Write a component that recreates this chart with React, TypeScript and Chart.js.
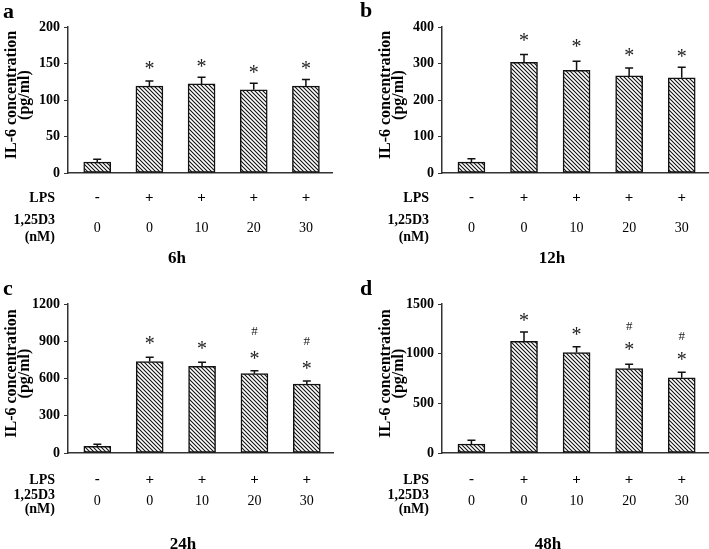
import React, { useEffect, useRef } from 'react';
import { Chart, registerables } from 'chart.js';
Chart.register(...registerables);

// ---------- data ----------
const doseLabels = ['0', '0', '10', '20', '30'];
const lpsSigns = ['-', '+', '+', '+', '+'];
const rowLabelLPS = 'LPS';
const rowLabelDose1 = '1,25D3';
const rowLabelDose2 = '(nM)';
const yTitleLine1 = 'IL-6 concentration';
const yTitleLine2 = '(pg/ml)';
const panelLetters = ['a', 'b', 'c', 'd'];
const timeLabels = ['6h', '12h', '24h', '48h'];

const valuesA = [15, 119, 122, 114, 119];
const sdA = [4, 7, 9, 9, 9];
const starA = [null, 148, 151, 143, 148];
const hashA = [null, null, null, null, null];
const yTicksA = [0, 50, 100, 150, 200];

const valuesB = [30, 303, 281, 266, 261];
const sdB = [9, 22, 25, 22, 29];
const starB = [null, 373, 355, 332, 329];
const hashB = [null, null, null, null, null];
const yTicksB = [0, 100, 200, 300, 400];

const valuesC = [54, 736, 698, 639, 556];
const sdC = [16, 35, 33, 24, 24];
const starC = [null, 912, 871, 790, 709];
const hashC = [null, null, null, 984, 903];
const yTicksC = [0, 300, 600, 900, 1200];

const valuesD = [91, 1123, 1011, 850, 758];
const sdD = [37, 94, 58, 43, 54];
const starD = [null, 1365, 1224, 1079, 978];
const hashD = [null, null, null, 1281, 1180];
const yTicksD = [0, 500, 1000, 1500];

const panelValues = [valuesA, valuesB, valuesC, valuesD];
const panelSd = [sdA, sdB, sdC, sdD];
const panelStar = [starA, starB, starC, starD];
const panelHash = [hashA, hashB, hashC, hashD];
const panelTicks = [yTicksA, yTicksB, yTicksC, yTicksD];

// ---------- layout / style ----------
const FONT = '"Liberation Serif", "Times New Roman", serif';
const AXIS = '#333';
const layouts = [
  { left: 0, top: 0, w: 355, h: 270, pl: 68, pt: 27, pr: 332, pb: 173, lps: 24, dose: 54, l1: 47, l2: 64, time: 84, timeX: 177, letterX: 3, letterY: 18 },
  { left: 355, top: 0, w: 354, h: 270, pl: 87, pt: 27, pr: 353, pb: 173, lps: 24, dose: 54, l1: 47, l2: 64, time: 84, timeX: 197, letterX: 5, letterY: 17 },
  { left: 0, top: 270, w: 355, h: 279, pl: 68, pt: 34, pr: 333, pb: 183, lps: 26, dose: 47, l1: 42, l2: 56, time: 90, timeX: 183, letterX: 3, letterY: 25 },
  { left: 355, top: 270, w: 354, h: 279, pl: 87, pt: 34, pr: 353, pb: 183, lps: 26, dose: 47, l1: 42, l2: 56, time: 90, timeX: 193, letterX: 5, letterY: 25 },
];

function makeHatch(): CanvasPattern | string {
  const t = document.createElement('canvas');
  t.width = 4;
  t.height = 4;
  const c = t.getContext('2d');
  if (!c) return '#fff';
  c.fillStyle = '#fff';
  c.fillRect(0, 0, 4, 4);
  c.strokeStyle = '#111';
  c.lineWidth = 1.1;
  c.beginPath();
  c.moveTo(-1, -1); c.lineTo(5, 5);
  c.moveTo(-1, 3); c.lineTo(1, 5);
  c.moveTo(3, -1); c.lineTo(5, 1);
  c.stroke();
  return c.createPattern(t, 'repeat') || '#fff';
}

function drawCentered(ctx: CanvasRenderingContext2D, text: string, x: number, y: number) {
  const m = ctx.measureText(text);
  const asc = m.actualBoundingBoxAscent;
  const desc = m.actualBoundingBoxDescent;
  ctx.textBaseline = 'alphabetic';
  ctx.fillText(text, x, y + (asc - desc) / 2);
}

function Panel({ idx }: { idx: number }) {
  const ref = useRef<HTMLCanvasElement>(null);
  useEffect(() => {
    const L = layouts[idx];
    const values = panelValues[idx];
    const sd = panelSd[idx];
    const stars = panelStar[idx];
    const hashes = panelHash[idx];
    const ticks = panelTicks[idx];
    const canvas = ref.current;
    if (!canvas) return;

    const decor = {
      id: 'decor' + idx,
      afterDatasetsDraw(chart: any) {
        const ctx: CanvasRenderingContext2D = chart.ctx;
        const xs = chart.scales.x;
        const ys = chart.scales.y;
        const ca = chart.chartArea;
        ctx.save();
        // error bars
        ctx.strokeStyle = '#111';
        ctx.lineWidth = 1.5;
        values.forEach((v, i) => {
          const x = xs.getPixelForValue(i);
          const y0 = ys.getPixelForValue(v);
          const y1 = ys.getPixelForValue(v + sd[i]);
          ctx.beginPath();
          ctx.moveTo(x, y0);
          ctx.lineTo(x, y1);
          ctx.moveTo(x - 4, y1);
          ctx.lineTo(x + 4, y1);
          ctx.stroke();
        });
        // significance marks
        ctx.fillStyle = '#222';
        ctx.textAlign = 'center';
        stars.forEach((s, i) => {
          if (s == null) return;
          ctx.font = '20px ' + FONT;
          drawCentered(ctx, '*', xs.getPixelForValue(i), ys.getPixelForValue(s));
        });
        hashes.forEach((s, i) => {
          if (s == null) return;
          ctx.font = '13px ' + FONT;
          drawCentered(ctx, '#', xs.getPixelForValue(i), ys.getPixelForValue(s));
        });
        // condition rows
        ctx.fillStyle = '#000';
        const bottom = ca.bottom;
        lpsSigns.forEach((s, i) => {
          ctx.font = 'bold 15px ' + FONT;
          drawCentered(ctx, s, xs.getPixelForValue(i), bottom + L.lps);
        });
        doseLabels.forEach((s, i) => {
          ctx.font = '14px ' + FONT;
          drawCentered(ctx, s, xs.getPixelForValue(i), bottom + L.dose);
        });
        ctx.textAlign = 'right';
        ctx.font = 'bold 14px ' + FONT;
        const rx = ca.left - 13;
        drawCentered(ctx, rowLabelLPS, rx, bottom + L.lps);
        drawCentered(ctx, rowLabelDose1, rx, bottom + L.l1);
        drawCentered(ctx, rowLabelDose2, rx, bottom + L.l2);
        // time label
        ctx.textAlign = 'center';
        ctx.font = 'bold 17px ' + FONT;
        drawCentered(ctx, timeLabels[idx], L.timeX, bottom + L.time);
        // panel letter
        ctx.textAlign = 'left';
        ctx.textBaseline = 'alphabetic';
        ctx.font = 'bold 22px ' + FONT;
        ctx.fillText(panelLetters[idx], L.letterX, L.letterY);
        // y title
        const cy = (ca.top + ca.bottom) / 2 - 5;
        ctx.font = 'bold 16px ' + FONT;
        ctx.textAlign = 'center';
        ctx.save();
        ctx.translate(ca.left - 58, cy);
        ctx.rotate(-Math.PI / 2);
        drawCentered(ctx, yTitleLine1, 0, 0);
        ctx.restore();
        ctx.save();
        ctx.translate(ca.left - 43, cy);
        ctx.rotate(-Math.PI / 2);
        drawCentered(ctx, yTitleLine2, 0, 0);
        ctx.restore();
        ctx.restore();
      },
    };

    const chart = new Chart(canvas, {
      type: 'bar',
      data: {
        datasets: [
          {
            data: values.map((v, i) => ({ x: i, y: v })),
            backgroundColor: makeHatch() as any,
            borderColor: '#111',
            borderWidth: 1.5,
            borderSkipped: false,
            barThickness: 27,
          },
        ],
      },
      options: {
        responsive: false,
        animation: false,
        devicePixelRatio: 1,
        layout: { padding: { left: 0, top: L.pt, right: L.w - L.pr, bottom: L.h - L.pb } },
        plugins: { legend: { display: false }, tooltip: { enabled: false } },
        scales: {
          x: {
            type: 'linear',
            min: -0.56,
            max: 4.5,
            offset: false,
            ticks: { display: false },
            grid: { display: false },
            border: { display: true, color: AXIS, width: 1.5 },
            afterFit: (s: any) => { s.height = 0; },
          },
          y: {
            min: ticks[0],
            max: ticks[ticks.length - 1],
            afterBuildTicks: (s: any) => { s.ticks = ticks.map((v) => ({ value: v })); },
            ticks: {
              color: '#000',
              padding: 4,
              font: { family: FONT, size: 14, weight: 'bold' },
              callback: (v: any) => String(v),
            },
            grid: { display: true, drawOnChartArea: false, drawTicks: true, tickLength: 4, color: AXIS, lineWidth: 1 },
            border: { display: true, color: AXIS, width: 1.5 },
            afterFit: (s: any) => { s.width = L.pl; },
          },
        },
      } as any,
      plugins: [decor],
    });
    return () => chart.destroy();
  }, [idx]);
  const L = layouts[idx];
  return (
    <canvas
      ref={ref}
      width={L.w}
      height={L.h}
      style={{ position: 'absolute', left: L.left, top: L.top, width: L.w, height: L.h }}
    />
  );
}

export default function App() {
  return (
    <div style={{ position: 'fixed', left: 0, top: 0, width: 709, height: 549, background: '#fff' }}>
      {[0, 1, 2, 3].map((i) => (
        <Panel key={i} idx={i} />
      ))}
    </div>
  );
}
